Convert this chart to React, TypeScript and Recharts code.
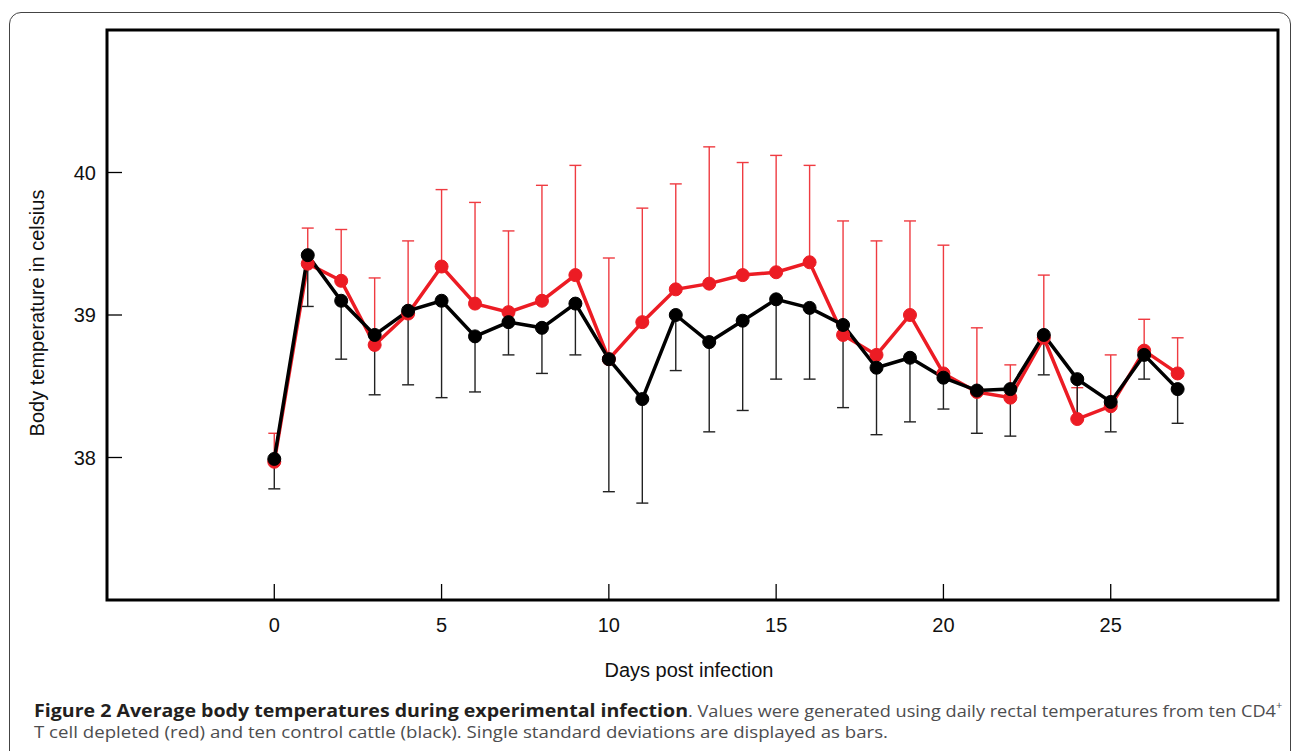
import React from 'react';
import { ComposedChart, Line, XAxis, YAxis, ErrorBar, ReferenceArea } from 'recharts';

// days post infection
const days = [0, 1, 2, 3, 4, 5, 6, 7, 8, 9, 10, 11, 12, 13, 14, 15, 16, 17, 18, 19, 20, 21, 22, 23, 24, 25, 26, 27];

// CD4+ T cell depleted (red): mean and one SD (drawn upward)
const depletedMean = [37.97, 39.36, 39.24, 38.79, 39.01, 39.34, 39.08, 39.02, 39.10, 39.28, 38.69, 38.95, 39.18, 39.22, 39.28, 39.30, 39.37, 38.86, 38.72, 39.00, 38.59, 38.46, 38.42, 38.84, 38.27, 38.36, 38.75, 38.59];
const depletedSd = [0.20, 0.25, 0.36, 0.47, 0.51, 0.54, 0.71, 0.57, 0.81, 0.77, 0.71, 0.80, 0.74, 0.96, 0.79, 0.82, 0.68, 0.80, 0.80, 0.66, 0.90, 0.45, 0.23, 0.44, 0.22, 0.36, 0.22, 0.25];

// control cattle (black): mean and one SD (drawn downward)
const controlMean = [37.99, 39.42, 39.10, 38.86, 39.03, 39.10, 38.85, 38.95, 38.91, 39.08, 38.69, 38.41, 39.00, 38.81, 38.96, 39.11, 39.05, 38.93, 38.63, 38.70, 38.56, 38.47, 38.48, 38.86, 38.55, 38.39, 38.72, 38.48];
const controlSd = [0.21, 0.36, 0.41, 0.42, 0.52, 0.68, 0.39, 0.23, 0.32, 0.36, 0.93, 0.73, 0.39, 0.63, 0.63, 0.56, 0.50, 0.58, 0.47, 0.45, 0.22, 0.30, 0.33, 0.28, 0.28, 0.21, 0.17, 0.24];

const xTicks = [0, 5, 10, 15, 20, 25];
const yTicks = [38, 39, 40];

const data = days.map((d, i) => ({
  day: d,
  depleted: depletedMean[i],
  depletedErr: [0, depletedSd[i]],
  control: controlMean[i],
  controlErr: [controlSd[i], 0],
}));

const RED = '#ec1c24';
const AXIS_FONT = '"Liberation Sans", Arial, sans-serif';
const CAPTION_FONT = '"Open Sans", sans-serif';
const PLOT_LEFT = 107;
const PLOT_BOTTOM = 600;

const YTick = ({ y, payload }: any) => (
  <g>
    <line x1={PLOT_LEFT} x2={PLOT_LEFT + 15} y1={y} y2={y} stroke="#000" strokeWidth={1.3} />
    <text x={PLOT_LEFT - 11} y={y} dy={7} textAnchor="end" fontSize={20} fontFamily={AXIS_FONT} fill="#111">
      {payload.value}
    </text>
  </g>
);

const XTick = ({ x, payload }: any) => (
  <g>
    <line x1={x} x2={x} y1={PLOT_BOTTOM - 16} y2={PLOT_BOTTOM} stroke="#000" strokeWidth={1.3} />
    <text x={x} y={PLOT_BOTTOM + 32} textAnchor="middle" fontSize={20} fontFamily={AXIS_FONT} fill="#111">
      {payload.value}
    </text>
  </g>
);

export default function App() {
  return (
    <div style={{ position: 'absolute', left: 0, top: 0, width: 1293, height: 751, overflow: 'hidden', background: '#fff' }}>
      {/* figure frame */}
      <div
        style={{
          position: 'absolute', left: 9, top: 12, width: 1280, height: 760,
          border: '1.5px solid #444', borderRadius: 12,
        }}
      />
      <div style={{ position: 'absolute', left: 0, top: 0 }}>
        <ComposedChart width={1293} height={751} data={data} margin={{ top: 30, right: 15, left: 47, bottom: 101 }}>
          <XAxis
            type="number"
            dataKey="day"
            domain={[-5, 30]}
            ticks={xTicks}
            axisLine={false}
            tickLine={false}
            tick={<XTick />}
            height={50}
            interval={0}
          />
          <YAxis
            type="number"
            domain={[37, 41]}
            ticks={yTicks}
            axisLine={false}
            tickLine={false}
            tick={<YTick />}
            width={60}
            interval={0}
          />
          <ReferenceArea x1={-5} x2={30} y1={37} y2={41} fill="none" stroke="#000" strokeWidth={3} />
          <Line
            dataKey="depleted"
            stroke={RED}
            strokeWidth={3.5}
            dot={{ r: 6.5, fill: RED, stroke: RED, strokeWidth: 1 }}
            isAnimationActive={false}
          >
            <ErrorBar dataKey="depletedErr" direction="y" width={6} stroke="#ef3b41" strokeWidth={1.4} isAnimationActive={false} />
          </Line>
          <Line
            dataKey="control"
            stroke="#000"
            strokeWidth={3.5}
            dot={{ r: 6.5, fill: '#000', stroke: '#000', strokeWidth: 1 }}
            isAnimationActive={false}
          >
            <ErrorBar dataKey="controlErr" direction="y" width={6} stroke="#222" strokeWidth={1.4} isAnimationActive={false} />
          </Line>
        </ComposedChart>
      </div>
      {/* axis titles */}
      <div
        style={{
          position: 'absolute', left: 539, top: 658, width: 300, textAlign: 'center',
          fontFamily: AXIS_FONT, fontSize: 20, color: '#111', lineHeight: '24px',
        }}
      >
        Days post infection
      </div>
      <div
        style={{
          position: 'absolute', left: 37, top: 313, width: 320, marginLeft: -160, marginTop: -12,
          textAlign: 'center', fontFamily: AXIS_FONT, fontSize: 20, color: '#111', lineHeight: '24px',
          transform: 'rotate(-90deg)',
        }}
      >
        Body temperature in celsius
      </div>
      {/* caption */}
      <svg width={1293} height={751} style={{ position: 'absolute', left: 0, top: 0 }}>
        <text x={34} y={717} fontFamily={CAPTION_FONT} fontSize={17} fontWeight={700} fill="#231f20" textLength={654} lengthAdjust="spacingAndGlyphs">
          Figure 2 Average body temperatures during experimental infection
        </text>
        <text x={688} y={717} fontFamily={CAPTION_FONT} fontSize={17} fill="#4d4d4f" textLength={588} lengthAdjust="spacingAndGlyphs">
          . Values were generated using daily rectal temperatures from ten CD4
        </text>
        <text x={1276} y={709} fontFamily={CAPTION_FONT} fontSize={11} fill="#4d4d4f">+</text>
        <text x={34} y={738} fontFamily={CAPTION_FONT} fontSize={17} fill="#4d4d4f" textLength={854} lengthAdjust="spacingAndGlyphs">
          T cell depleted (red) and ten control cattle (black). Single standard deviations are displayed as bars.
        </text>
      </svg>
    </div>
  );
}
